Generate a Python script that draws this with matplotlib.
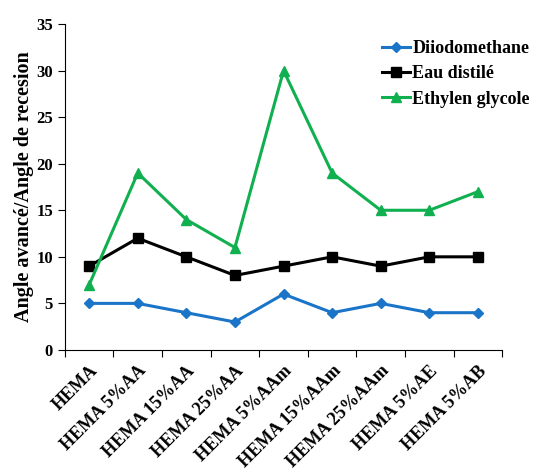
import matplotlib.pyplot as plt
import numpy as np

plt.rcParams['font.family'] = ['Liberation Serif', 'DejaVu Serif']
plt.rcParams['font.weight'] = 'bold'

categories = ["HEMA", "HEMA 5%AA", "HEMA 15%AA", "HEMA 25%AA", "HEMA 5%AAm",
              "HEMA 15%AAm", "HEMA 25%AAm", "HEMA 5%AE", "HEMA 5%AB"]
diiodomethane = [5, 5, 4, 3, 6, 4, 5, 4, 4]
eau_distile = [9, 12, 10, 8, 9, 10, 9, 10, 10]
ethylen_glycole = [7, 19, 14, 11, 30, 19, 15, 15, 17]

fig = plt.figure(figsize=(5.36, 4.71), dpi=100)
ax = fig.add_axes([0.121, 0.257, 0.816, 0.692])

x = np.arange(len(categories))
ax.plot(x, diiodomethane, color='#1a75c9', marker='D', markersize=5.5, lw=2.2, label='Diiodomethane')
ax.plot(x, eau_distile, color='black', marker='s', markersize=7.5, lw=2.2, label='Eau distilé')
ax.plot(x, ethylen_glycole, color='#10b050', marker='^', markersize=7.5, lw=2.2, label='Ethylen glycole')

ax.set_xlim(-0.5, len(categories) - 0.5)
ax.set_ylim(0, 35)
ax.set_yticks(range(0, 36, 5))
ax.set_xticks(np.arange(-0.5, len(categories), 1.0))
ax.set_xticklabels([])
ax.set_xticks(x, minor=True)
ax.set_xticklabels(categories, minor=True, rotation=45, ha='right', rotation_mode='anchor', fontsize=13)
ax.tick_params(axis='x', which='minor', length=0, pad=9)
ax.tick_params(axis='x', which='major', direction='out', length=5)
ax.tick_params(axis='y', direction='out', length=5, labelsize=12)
ax.spines['top'].set_visible(False)
ax.spines['right'].set_visible(False)
ax.set_ylabel('Angle avancé/Angle de recesion', fontsize=14.5, fontweight='bold', labelpad=2)

ax.legend(loc='upper right', frameon=False, fontsize=13, handlelength=1.5,
          handletextpad=0.15, labelspacing=0.45, bbox_to_anchor=(1.1, 1.0))

fig.savefig('out.png', dpi=100)
